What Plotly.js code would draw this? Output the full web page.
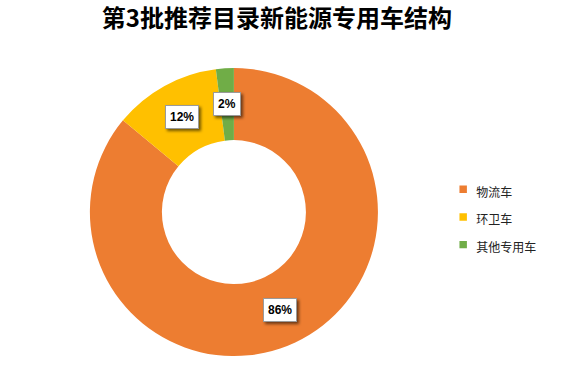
<!DOCTYPE html>
<html>
<head>
<meta charset="utf-8">
<script src="https://cdn.plot.ly/plotly-3.0.1.min.js"></script>
<style>html,body{margin:0;padding:0;background:#fff;}#chart{width:565px;height:366px;}</style>
</head>
<body>
<div id="chart"></div>
<script>
const categories = ["物流车", "环卫车", "其他专用车"];
const shares = [86, 12, 2];
const colors = ["#ED7D31", "#FFC000", "#70AD47"];

const W = 565, H = 366;
const domX = [0.159, 0.669];
const domY = [0.027, 0.814];
const hole = 0.5;

// label positions at middle of ring, derived from the data
const total = shares.reduce((a, b) => a + b, 0);
const cx = (domX[0] + domX[1]) / 2, cy = (domY[0] + domY[1]) / 2;
const Rpx = Math.min((domX[1] - domX[0]) * W, (domY[1] - domY[0]) * H) / 2;
const rMid = Rpx * (1 + hole) / 2;
const annotations = [];
let acc = 0;
shares.forEach((v, i) => {
  const mid = (acc + v / 2) / total * 2 * Math.PI; // clockwise from top
  acc += v;
  const ax = cx + Math.sin(mid) * rMid / W;
  const ay = cy + Math.cos(mid) * rMid / H;
  annotations.push({x: ax, y: ay, xref: "paper", yref: "paper", showarrow: false,
    xanchor: "center", yanchor: "middle", borderwidth: 1, borderpad: 4,
    text: "<b>" + v + "%</b>",
    bgcolor: "#ffffff", bordercolor: "#9a9a9a",
    font: {family: "Liberation Sans, Arial, sans-serif", size: 12, color: "#000"}});
});

const legendLabels = categories.map(c => '<span style="font-size:12px">' + c + '</span>');

const data = [{
  type: "pie",
  labels: legendLabels,
  values: shares,
  hole: hole,
  sort: false,
  direction: "clockwise",
  rotation: 0,
  marker: {colors: colors, line: {color: "#ffffff", width: 0}},
  textinfo: "none",
  hoverinfo: "label+percent",
  domain: {x: domX, y: domY}
}];

const layout = {
  width: W, height: H,
  margin: {l: 0, r: 0, t: 0, b: 0},
  paper_bgcolor: "#ffffff",
  title: {text: "<b>第3批推荐目录新能源专用车结构</b>", x: 0.49, xanchor: "center", y: 0.95, yanchor: "middle",
    font: {family: "Noto Sans CJK SC, sans-serif", size: 24, color: "#000"}},
  showlegend: true,
  legend: {x: 0.772, y: 0.406, xanchor: "left", yanchor: "middle", bgcolor: "rgba(0,0,0,0)",
    font: {family: "Noto Sans CJK SC, sans-serif", size: 19, color: "#222"},
    itemwidth: 30},
  annotations: annotations
};

Plotly.newPlot("chart", data, layout, {displayModeBar: false, staticPlot: true}).then(gd => {
  gd.querySelectorAll(".annotation rect.bg").forEach(r => {
    r.style.filter = "drop-shadow(2px 2px 1.5px rgba(0,0,0,0.55))";
  });
  gd.querySelectorAll(".legend .legendpoints path").forEach(p => {
    p.style.transform = "translateX(27px) scale(0.62)";
  });
});
</script>
</body>
</html>
